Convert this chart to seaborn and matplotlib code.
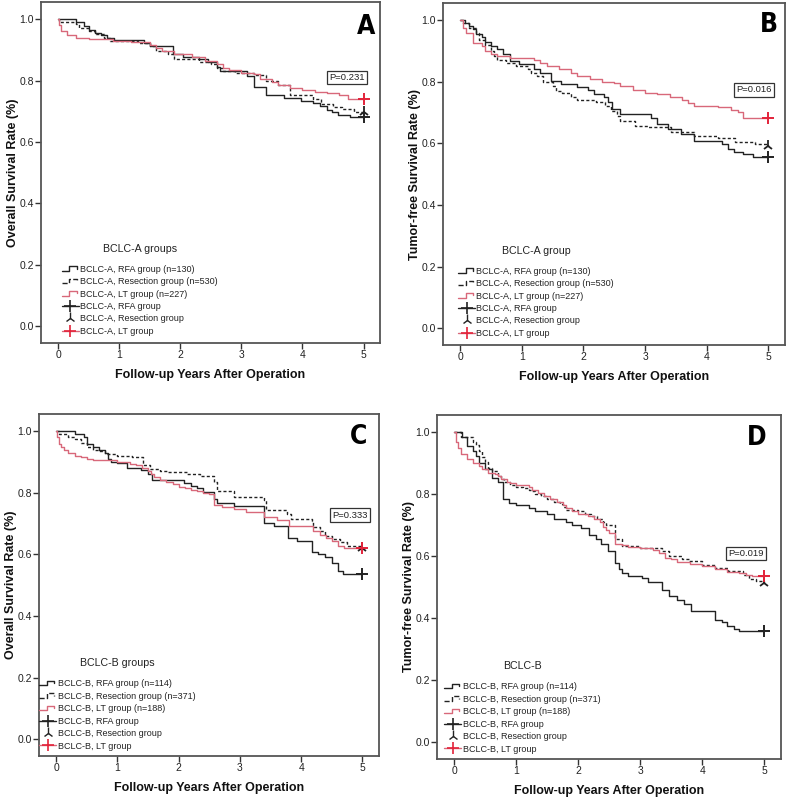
import numpy as np
import pandas as pd
import matplotlib
matplotlib.use("Agg")
import matplotlib.pyplot as plt
import seaborn as sns
from matplotlib.lines import Line2D
from matplotlib.legend_handler import HandlerBase

# ---------------- data ----------------
# Panel A: BCLC-A overall survival
A_RFA_T = [0, 0.3, 0.42, 0.5, 0.6, 0.7, 0.8, 0.92, 1.4, 1.5, 1.88, 2.05, 2.3, 2.45, 2.6, 2.65, 3.1, 3.2, 3.4, 3.7, 3.98, 4.18, 4.28, 4.4, 4.48, 4.58, 4.78, 5.0]
A_RFA_S = [1.0, 0.99, 0.977, 0.965, 0.956, 0.947, 0.94, 0.932, 0.922, 0.913, 0.886, 0.878, 0.87, 0.862, 0.845, 0.832, 0.816, 0.779, 0.752, 0.742, 0.734, 0.726, 0.717, 0.705, 0.696, 0.688, 0.68, 0.68]
A_RES_T = [0, 0.02, 0.3, 0.35, 0.5, 0.6, 0.75, 0.85, 1.3, 1.5, 1.6, 1.8, 1.9, 2.3, 2.5, 2.6, 2.7, 2.9, 3.2, 3.4, 3.6, 3.8, 4.17, 4.3, 4.5, 4.65, 4.85, 5.0]
A_RES_S = [1.0, 0.99, 0.985, 0.97, 0.96, 0.953, 0.94, 0.93, 0.924, 0.914, 0.895, 0.888, 0.87, 0.862, 0.855, 0.84, 0.83, 0.824, 0.818, 0.8, 0.785, 0.752, 0.74, 0.724, 0.715, 0.707, 0.698, 0.696]
A_LT_T = [0, 0.02, 0.05, 0.15, 0.3, 0.5, 0.9, 1.2, 1.5, 1.6, 1.7, 1.9, 2.2, 2.4, 2.6, 2.7, 2.8, 3.0, 3.2, 3.3, 3.5, 3.6, 3.8, 4.0, 4.2, 4.4, 4.6, 4.75, 5.0]
A_LT_S = [1.0, 0.98, 0.96, 0.95, 0.94, 0.935, 0.93, 0.925, 0.915, 0.905, 0.895, 0.885, 0.876, 0.865, 0.855, 0.842, 0.836, 0.826, 0.82, 0.806, 0.795, 0.786, 0.776, 0.77, 0.764, 0.758, 0.753, 0.741, 0.741]

# Panel B: BCLC-A tumor-free survival
B_RFA_T = [0, 0.08, 0.15, 0.2, 0.25, 0.35, 0.4, 0.5, 0.6, 0.7, 0.8, 0.95, 1.2, 1.3, 1.47, 1.63, 1.9, 2.07, 2.17, 2.34, 2.39, 2.47, 2.6, 3.1, 3.2, 3.37, 3.59, 3.8, 4.24, 4.35, 4.45, 4.59, 4.75, 5.0]
B_RFA_S = [1.0, 0.99, 0.98, 0.97, 0.955, 0.945, 0.93, 0.915, 0.905, 0.89, 0.868, 0.858, 0.841, 0.83, 0.804, 0.793, 0.782, 0.772, 0.762, 0.75, 0.734, 0.712, 0.696, 0.683, 0.664, 0.647, 0.631, 0.609, 0.599, 0.583, 0.572, 0.565, 0.556, 0.556]
B_RES_T = [0, 0.05, 0.15, 0.25, 0.3, 0.4, 0.5, 0.55, 0.6, 0.75, 0.9, 1.1, 1.15, 1.25, 1.35, 1.5, 1.55, 1.65, 1.8, 1.9, 2.2, 2.35, 2.45, 2.55, 2.6, 2.83, 3.04, 3.42, 3.8, 4.18, 4.46, 4.78, 5.0]
B_RES_S = [1.0, 0.99, 0.975, 0.96, 0.935, 0.92, 0.9, 0.885, 0.87, 0.86, 0.85, 0.84, 0.83, 0.82, 0.8, 0.785, 0.77, 0.765, 0.75, 0.74, 0.735, 0.72, 0.705, 0.69, 0.674, 0.658, 0.653, 0.636, 0.625, 0.618, 0.604, 0.597, 0.59]
B_LT_T = [0, 0.05, 0.1, 0.2, 0.35, 0.4, 0.5, 0.6, 0.8, 1.2, 1.3, 1.4, 1.6, 1.8, 1.9, 2.1, 2.3, 2.5, 2.6, 2.8, 3.0, 3.2, 3.4, 3.6, 3.7, 3.8, 4.18, 4.4, 4.5, 4.59, 5.0]
B_LT_S = [1.0, 0.975, 0.96, 0.925, 0.915, 0.9, 0.89, 0.885, 0.876, 0.87, 0.86, 0.85, 0.84, 0.83, 0.82, 0.81, 0.8, 0.795, 0.785, 0.775, 0.765, 0.76, 0.75, 0.74, 0.73, 0.72, 0.717, 0.708, 0.701, 0.684, 0.684]

# Panel C: BCLC-B overall survival
C_RFA_T = [0, 0.3, 0.45, 0.5, 0.6, 0.7, 0.8, 0.85, 0.9, 1.0, 1.16, 1.38, 1.5, 1.57, 2.08, 2.2, 2.3, 2.4, 2.57, 2.63, 2.9, 3.39, 3.55, 3.79, 3.93, 4.17, 4.28, 4.39, 4.5, 4.6, 4.69, 5.0]
C_RFA_S = [1.0, 0.99, 0.98, 0.96, 0.95, 0.94, 0.93, 0.91, 0.9, 0.897, 0.881, 0.874, 0.86, 0.843, 0.832, 0.822, 0.816, 0.802, 0.779, 0.768, 0.758, 0.702, 0.693, 0.653, 0.642, 0.607, 0.6, 0.592, 0.573, 0.545, 0.536, 0.536]
C_RES_T = [0, 0.05, 0.2, 0.3, 0.4, 0.5, 0.6, 0.7, 0.8, 1.0, 1.24, 1.41, 1.54, 1.7, 1.81, 2.14, 2.35, 2.57, 2.62, 2.9, 3.39, 3.42, 3.77, 3.83, 4.17, 4.2, 4.3, 4.39, 4.5, 4.64, 4.75, 5.0]
C_RES_S = [1.0, 0.99, 0.98, 0.975, 0.962, 0.95, 0.94, 0.935, 0.925, 0.92, 0.917, 0.89, 0.877, 0.871, 0.866, 0.86, 0.854, 0.834, 0.805, 0.787, 0.776, 0.745, 0.73, 0.715, 0.707, 0.69, 0.675, 0.659, 0.65, 0.639, 0.626, 0.622]
C_LT_T = [0, 0.02, 0.05, 0.08, 0.12, 0.2, 0.3, 0.4, 0.5, 0.6, 1.0, 1.2, 1.3, 1.4, 1.5, 1.55, 1.6, 1.7, 1.8, 1.9, 2.0, 2.1, 2.2, 2.3, 2.4, 2.5, 2.57, 2.7, 2.9, 3.1, 3.39, 3.6, 3.8, 4.2, 4.3, 4.4, 4.5, 4.6, 4.7, 5.0]
C_LT_S = [1.0, 0.98, 0.96, 0.95, 0.94, 0.93, 0.92, 0.915, 0.91, 0.905, 0.9, 0.895, 0.89, 0.88, 0.87, 0.86, 0.85, 0.84, 0.835, 0.83, 0.82, 0.815, 0.81, 0.805, 0.8, 0.795, 0.762, 0.754, 0.748, 0.737, 0.72, 0.712, 0.691, 0.675, 0.664, 0.653, 0.643, 0.626, 0.62, 0.62]

# Panel D: BCLC-B tumor-free survival
D_RFA_T = [0, 0.12, 0.2, 0.3, 0.35, 0.4, 0.5, 0.6, 0.7, 0.78, 0.88, 1.0, 1.2, 1.3, 1.5, 1.6, 1.8, 1.9, 2.05, 2.18, 2.28, 2.37, 2.48, 2.59, 2.65, 2.7, 2.8, 3.02, 3.13, 3.35, 3.46, 3.59, 3.7, 3.81, 4.21, 4.32, 4.4, 4.51, 4.59, 5.0]
D_RFA_S = [1.0, 0.986, 0.957, 0.94, 0.924, 0.9, 0.881, 0.854, 0.838, 0.784, 0.773, 0.765, 0.755, 0.745, 0.735, 0.72, 0.71, 0.7, 0.692, 0.67, 0.654, 0.638, 0.616, 0.578, 0.56, 0.546, 0.535, 0.53, 0.516, 0.49, 0.47, 0.457, 0.446, 0.422, 0.395, 0.386, 0.375, 0.364, 0.36, 0.36]
D_RES_T = [0, 0.1, 0.3, 0.35, 0.4, 0.45, 0.5, 0.55, 0.6, 0.7, 0.75, 0.8, 0.9, 1.0, 1.1, 1.2, 1.25, 1.3, 1.4, 1.5, 1.6, 1.7, 1.75, 1.8, 2.0, 2.1, 2.2, 2.3, 2.4, 2.45, 2.59, 2.7, 3.0, 3.35, 3.46, 3.67, 3.78, 4.0, 4.2, 4.42, 4.65, 4.76, 4.87, 5.0]
D_RES_S = [1.0, 0.985, 0.97, 0.96, 0.94, 0.92, 0.905, 0.885, 0.875, 0.86, 0.85, 0.84, 0.83, 0.825, 0.82, 0.815, 0.81, 0.8, 0.795, 0.785, 0.775, 0.77, 0.76, 0.75, 0.745, 0.735, 0.73, 0.72, 0.71, 0.7, 0.654, 0.632, 0.627, 0.616, 0.6, 0.591, 0.584, 0.573, 0.562, 0.551, 0.54, 0.527, 0.519, 0.514]
D_LT_T = [0, 0.03, 0.06, 0.1, 0.2, 0.3, 0.4, 0.45, 0.55, 0.65, 0.7, 0.75, 0.85, 0.9, 1.0, 1.2, 1.25, 1.35, 1.45, 1.55, 1.65, 1.75, 1.8, 1.9, 2.0, 2.15, 2.25, 2.35, 2.4, 2.45, 2.5, 2.59, 2.7, 2.8, 3.0, 3.2, 3.3, 3.4, 3.5, 3.6, 3.8, 4.0, 4.2, 4.4, 4.6, 4.7, 4.8, 5.0]
D_LT_S = [1.0, 0.97, 0.95, 0.93, 0.915, 0.9, 0.89, 0.88, 0.87, 0.865, 0.86, 0.85, 0.84, 0.835, 0.83, 0.825, 0.815, 0.805, 0.795, 0.785, 0.775, 0.765, 0.755, 0.745, 0.735, 0.73, 0.72, 0.71, 0.695, 0.685, 0.675, 0.64, 0.635, 0.63, 0.625, 0.62, 0.61, 0.595, 0.59, 0.58, 0.575, 0.568, 0.56, 0.55, 0.545, 0.54, 0.535, 0.535]

PANEL_LETTERS = ["A", "B", "C", "D"]
Y_LABELS = ["Overall Survival Rate (%)", "Tumor-free Survival Rate (%)",
            "Overall Survival Rate (%)", "Tumor-free Survival Rate (%)"]
X_LABEL = "Follow-up Years After Operation"
P_TEXTS = ["P=0.231", "P=0.016", "P=0.333", "P=0.019"]
P_POS = [(4.73, 0.81), (4.76, 0.774), (4.8, 0.727), (4.7, 0.609)]
LEGEND_TITLES = ["BCLC-A groups", "BCLC-A group", "BCLC-B groups", "BCLC-B"]
STAGES = ["BCLC-A", "BCLC-A", "BCLC-B", "BCLC-B"]
N_RFA = [130, 130, 114, 114]
N_RES = [530, 530, 371, 371]
N_LT = [227, 227, 188, 188]
X_TICKS = [0, 1, 2, 3, 4, 5]
Y_TICKS = [0.0, 0.2, 0.4, 0.6, 0.8, 1.0]

CURVES = [
    [(A_RFA_T, A_RFA_S), (A_RES_T, A_RES_S), (A_LT_T, A_LT_S)],
    [(B_RFA_T, B_RFA_S), (B_RES_T, B_RES_S), (B_LT_T, B_LT_S)],
    [(C_RFA_T, C_RFA_S), (C_RES_T, C_RES_S), (C_LT_T, C_LT_S)],
    [(D_RFA_T, D_RFA_S), (D_RES_T, D_RES_S), (D_LT_T, D_LT_S)],
]

# ---------------- styling ----------------
sns.set_theme(style="white")
plt.rcParams["font.family"] = ["Liberation Sans", "DejaVu Sans"]

BLACK = "#222222"
LINE_RED = "#d8687a"
MARK_RED = "#e3233a"
DASH = (0, (2.2, 1.6))

# axes boxes in figure pixels (left, top, right, bottom)
W, H = 787, 800
BOXES = [(41, 2, 380, 343), (443, 3, 785, 345), (39, 414, 379, 756), (437, 415, 781, 759)]
LETTER_POS = [(0.96, 0.927), (0.953, 0.936), (0.94, 0.934), (0.928, 0.932)]
LEG_ANCHOR = [(0.045, 0.005), (0.028, 0.005), (-0.015, 0.0), (0.005, 0.0)]


class HandlerStep(HandlerBase):
    def create_artists(self, legend, orig_handle, xdescent, ydescent,
                       width, height, fontsize, trans):
        xs = np.array([0.0, 0.45, 0.45, 0.88, 0.88]) * width - xdescent
        ys = np.array([0.15, 0.15, 0.85, 0.85, 0.5]) * height - ydescent
        ln = Line2D(xs, ys, color=orig_handle.get_color(),
                    linestyle=orig_handle.get_linestyle(),
                    linewidth=orig_handle.get_linewidth(), transform=trans)
        return [ln]


class StepProxy(Line2D):
    pass


fig = plt.figure(figsize=(W / 100, H / 100), dpi=100)
fig.patch.set_facecolor("white")

for i in range(4):
    l, t, r, b = BOXES[i]
    ax = fig.add_axes([l / W, 1 - b / H, (r - l) / W, (b - t) / H])
    ax.set_facecolor("white")
    styles = [(BLACK, "-", 1.0), (BLACK, DASH, 1.0), (LINE_RED, "-", 1.0)]
    for (tt, ss), (c, ls, lw) in zip(CURVES[i], styles):
        df = pd.DataFrame({"t": tt, "s": ss})
        sns.lineplot(data=df, x="t", y="s", ax=ax, color=c, linestyle=ls,
                     linewidth=lw, drawstyle="steps-post", estimator=None,
                     sort=False, legend=False)
    # censor markers at end
    (rt, rs), (et, es), (lt_, ls_) = CURVES[i]
    ax.plot([rt[-1]], [rs[-1]], marker="+", color=BLACK, ms=8, mew=1.4, ls="none")
    ax.plot([et[-1]], [es[-1]], marker="2", color=BLACK, ms=8, mew=1.3, ls="none")
    ax.plot([lt_[-1]], [ls_[-1]], marker="+", color=MARK_RED, ms=8, mew=1.4, ls="none")

    ax.set_xlim(-0.28, 5.27)
    ax.set_ylim(-0.055, 1.056)
    ax.set_xticks(X_TICKS)
    ax.set_xticklabels([str(x) for x in X_TICKS])
    ax.set_yticks(Y_TICKS)
    ax.set_yticklabels([f"{y:.1f}" for y in Y_TICKS])
    ax.tick_params(axis="both", direction="out", length=4, width=1.0,
                   color="#333333", labelsize=7.5, labelcolor="#222222",
                   bottom=True, left=True, top=False, right=False, pad=1)
    for sp in ax.spines.values():
        sp.set_color("#555555")
        sp.set_linewidth(1.3)
        sp.set_visible(True)
    ax.set_xlabel(X_LABEL, fontsize=9, fontweight="bold", color="#111111")
    ax.set_ylabel(Y_LABELS[i], fontsize=9, fontweight="bold", color="#111111")
    ax.xaxis.set_label_coords(0.5, -0.077)
    ax.yaxis.set_label_coords(-0.064, 0.5)

    ax.text(P_POS[i][0], P_POS[i][1], P_TEXTS[i], fontsize=6.8, ha="center",
            va="center", color="#222222",
            bbox=dict(boxstyle="square,pad=0.25", fc="white", ec="#333333", lw=0.9))
    ax.text(LETTER_POS[i][0], LETTER_POS[i][1], PANEL_LETTERS[i],
            transform=ax.transAxes, fontsize=19, fontweight="bold",
            ha="center", va="center", color="black",
            family=["DejaVu Sans"], fontstretch="condensed")

    st = STAGES[i]
    handles = [
        StepProxy([], [], color=BLACK, linestyle="-", linewidth=1.0),
        StepProxy([], [], color=BLACK, linestyle=DASH, linewidth=1.0),
        StepProxy([], [], color=LINE_RED, linestyle="-", linewidth=1.0),
        Line2D([], [], color=BLACK, marker="+", ms=8, mew=1.2, lw=1.0),
        Line2D([], [], color=BLACK, marker="2", ms=8, mew=1.0, lw=0),
        Line2D([], [], color=LINE_RED, marker="+", ms=8, mew=1.2, lw=1.0,
               markeredgecolor=MARK_RED),
    ]
    labels = [f"{st}, RFA group (n={N_RFA[i]})",
              f"{st}, Resection group (n={N_RES[i]})",
              f"{st}, LT group (n={N_LT[i]})",
              f"{st}, RFA group", f"{st}, Resection group", f"{st}, LT group"]
    leg = ax.legend(handles, labels, loc="lower left", bbox_to_anchor=LEG_ANCHOR[i],
                    frameon=False, fontsize=6.5, title=LEGEND_TITLES[i],
                    title_fontsize=7.7, handlelength=1.9, handletextpad=0.15,
                    labelspacing=0.38, numpoints=1, borderaxespad=0.2,
                    handler_map={StepProxy: HandlerStep()})
    leg._legend_box.sep = 8
    for txt in leg.get_texts():
        txt.set_color("#222222")
    leg.get_title().set_color("#222222")

fig.savefig("out.png", dpi=100, facecolor="white")
